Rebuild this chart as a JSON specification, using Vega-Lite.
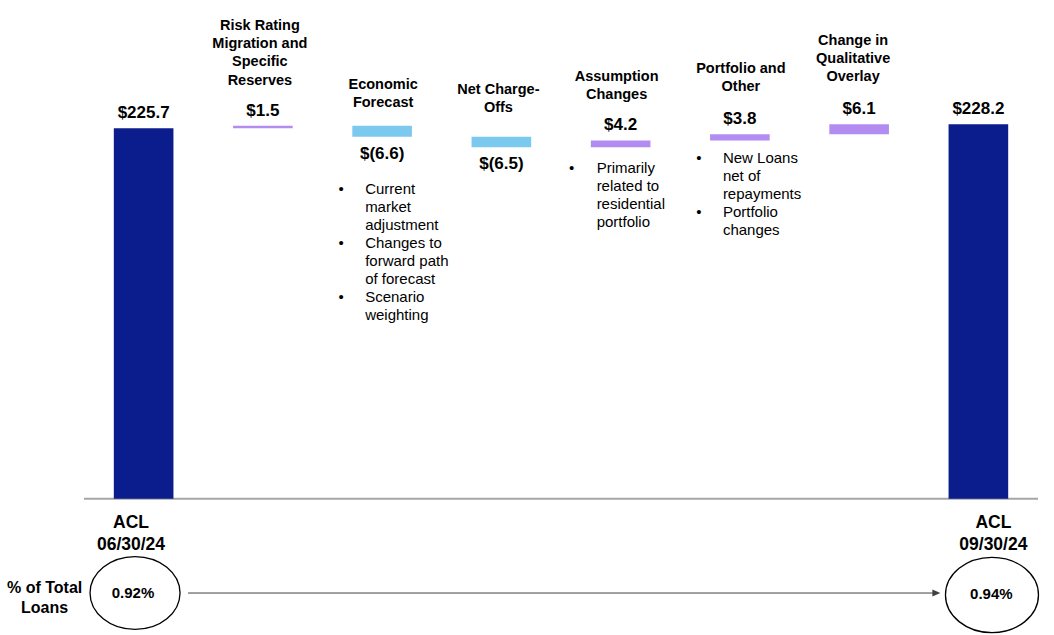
{
  "$schema": "https://vega.github.io/schema/vega-lite/v6.json",
  "width": 954,
  "height": 635,
  "autosize": "none",
  "padding": {"left": 84, "right": 16, "top": 0, "bottom": 0},
  "background": "white",
  "config": {
    "view": {"stroke": null},
    "text": {"font": "Liberation Sans", "lineBreak": "\n", "color": "#000000"}
  },
  "data": {
    "values": [
      {"cat": "start", "start": 0, "end": 225.7, "type": "total", "label": "$225.7", "acl": "ACL\n06/30/24", "pct": "0.92%", "rowlabel": "% of Total\nLoans"},
      {"cat": "risk", "start": 225.7, "end": 227.2, "type": "increase", "label": "$1.5", "title": "Risk Rating\nMigration and\nSpecific\nReserves"},
      {"cat": "econ", "start": 227.2, "end": 220.6, "type": "decrease", "label": "$(6.6)", "title": "Economic\nForecast", "notes": "Current\nmarket\nadjustment\nChanges to\nforward path\nof forecast\nScenario\nweighting", "bullets": "\u2022\n\u2022\n\u2022"},
      {"cat": "nco", "start": 220.6, "end": 214.1, "type": "decrease", "label": "$(6.5)", "title": "Net Charge-\nOffs"},
      {"cat": "assump", "start": 214.1, "end": 218.3, "type": "increase", "label": "$4.2", "title": "Assumption\nChanges", "notes": "Primarily\nrelated to\nresidential\nportfolio", "bullets": "\u2022"},
      {"cat": "port", "start": 218.3, "end": 222.1, "type": "increase", "label": "$3.8", "title": "Portfolio and\nOther", "notes": "New Loans\nnet of\nrepayments\nPortfolio\nchanges", "bullets": "\u2022\n\u2022"},
      {"cat": "qual", "start": 222.1, "end": 228.2, "type": "increase", "label": "$6.1", "title": "Change in\nQualitative\nOverlay"},
      {"cat": "end", "start": 0, "end": 228.2, "type": "total", "label": "$228.2", "acl": "ACL\n09/30/24", "pct": "0.94%"}
    ]
  },
  "layer": [
    {
      "data": {"values": [{}]},
      "mark": {"type": "rule", "color": "#A6A6A6", "strokeWidth": 2},
      "encoding": {"y": {"datum": 0, "type": "quantitative", "axis": null}}
    },
    {
      "mark": {"type": "bar"},
      "encoding": {
        "x": {"field": "cat", "type": "nominal", "sort": null, "axis": null,
              "scale": {"domain": ["start", "risk", "econ", "nco", "assump", "port", "qual", "end"], "paddingInner": 0.5, "paddingOuter": 0.25}},
        "y": {"field": "start", "type": "quantitative", "axis": null, "scale": {"domain": [-82.97, 303.85], "nice": false, "zero": false}},
        "y2": {"field": "end"},
        "color": {"field": "type", "type": "nominal", "legend": null,
                  "scale": {"domain": ["total", "increase", "decrease"], "range": ["#0B1C8C", "#B28CF0", "#7CC9F0"]}}
      }
    },
    {
      "transform": [{"filter": "datum.type != 'decrease'"}],
      "mark": {"type": "text", "fontSize": 17, "fontWeight": "bold", "baseline": "alphabetic", "dy": -10},
      "encoding": {
        "x": {"field": "cat", "type": "nominal", "sort": null},
        "y": {"field": "end", "type": "quantitative"},
        "text": {"field": "label"}
      }
    },
    {
      "transform": [{"filter": "datum.type == 'decrease'"}],
      "mark": {"type": "text", "fontSize": 17, "fontWeight": "bold", "baseline": "alphabetic", "dy": 22},
      "encoding": {
        "x": {"field": "cat", "type": "nominal", "sort": null},
        "y": {"field": "end", "type": "quantitative"},
        "text": {"field": "label"}
      }
    },
    {
      "transform": [{"filter": "datum.cat == 'risk'"}],
      "mark": {"type": "text", "fontSize": 14.5, "fontWeight": "bold", "baseline": "alphabetic", "lineHeight": 18.3, "dy": -96, "dx": -3},
      "encoding": {
        "x": {"field": "cat", "type": "nominal", "sort": null},
        "y": {"field": "end", "type": "quantitative"},
        "text": {"field": "title"}
      }
    },
    {
      "transform": [{"filter": "datum.cat == 'qual'"}],
      "mark": {"type": "text", "fontSize": 14.5, "fontWeight": "bold", "baseline": "alphabetic", "lineHeight": 18.3, "dy": -79.5, "dx": -6},
      "encoding": {
        "x": {"field": "cat", "type": "nominal", "sort": null},
        "y": {"field": "end", "type": "quantitative"},
        "text": {"field": "title"}
      }
    },
    {
      "transform": [{"filter": "datum.cat == 'assump'"}],
      "mark": {"type": "text", "fontSize": 14.5, "fontWeight": "bold", "baseline": "alphabetic", "lineHeight": 18.3, "dy": -59.5, "dx": -4},
      "encoding": {
        "x": {"field": "cat", "type": "nominal", "sort": null},
        "y": {"field": "end", "type": "quantitative"},
        "text": {"field": "title"}
      }
    },
    {
      "transform": [{"filter": "datum.cat == 'port'"}],
      "mark": {"type": "text", "fontSize": 14.5, "fontWeight": "bold", "baseline": "alphabetic", "lineHeight": 18.3, "dy": -61.5, "dx": 1},
      "encoding": {
        "x": {"field": "cat", "type": "nominal", "sort": null},
        "y": {"field": "end", "type": "quantitative"},
        "text": {"field": "title"}
      }
    },
    {
      "transform": [{"filter": "datum.cat == 'econ'"}],
      "mark": {"type": "text", "fontSize": 14.5, "fontWeight": "bold", "baseline": "alphabetic", "lineHeight": 18.3, "dy": -37, "dx": 1},
      "encoding": {
        "x": {"field": "cat", "type": "nominal", "sort": null},
        "y": {"field": "start", "type": "quantitative"},
        "text": {"field": "title"}
      }
    },
    {
      "transform": [{"filter": "datum.cat == 'nco'"}],
      "mark": {"type": "text", "fontSize": 14.5, "fontWeight": "bold", "baseline": "alphabetic", "lineHeight": 18.3, "dy": -42.5, "dx": -3},
      "encoding": {
        "x": {"field": "cat", "type": "nominal", "sort": null},
        "y": {"field": "start", "type": "quantitative"},
        "text": {"field": "title"}
      }
    },
    {
      "transform": [{"filter": "datum.cat == 'econ'"}],
      "mark": {"type": "text", "fontSize": 15, "baseline": "top", "align": "left", "lineHeight": 18, "dy": 45, "dx": -17},
      "encoding": {
        "x": {"field": "cat", "type": "nominal", "sort": null},
        "y": {"field": "end", "type": "quantitative"},
        "text": {"field": "notes"}
      }
    },
    {
      "transform": [{"filter": "datum.cat == 'econ'"}],
      "mark": {"type": "text", "fontSize": 15, "baseline": "top", "align": "center", "lineHeight": 54, "dy": 45, "dx": -41},
      "encoding": {
        "x": {"field": "cat", "type": "nominal", "sort": null},
        "y": {"field": "end", "type": "quantitative"},
        "text": {"field": "bullets"}
      }
    },
    {
      "transform": [{"filter": "datum.cat == 'assump'"}],
      "mark": {"type": "text", "fontSize": 15, "baseline": "top", "align": "left", "lineHeight": 18, "dy": 14, "dx": -24},
      "encoding": {
        "x": {"field": "cat", "type": "nominal", "sort": null},
        "y": {"field": "start", "type": "quantitative"},
        "text": {"field": "notes"}
      }
    },
    {
      "transform": [{"filter": "datum.cat == 'assump'"}],
      "mark": {"type": "text", "fontSize": 15, "baseline": "top", "align": "center", "lineHeight": 54, "dy": 14, "dx": -49},
      "encoding": {
        "x": {"field": "cat", "type": "nominal", "sort": null},
        "y": {"field": "start", "type": "quantitative"},
        "text": {"field": "bullets"}
      }
    },
    {
      "transform": [{"filter": "datum.cat == 'port'"}],
      "mark": {"type": "text", "fontSize": 15, "baseline": "top", "align": "left", "lineHeight": 18, "dy": 11, "dx": -17},
      "encoding": {
        "x": {"field": "cat", "type": "nominal", "sort": null},
        "y": {"field": "start", "type": "quantitative"},
        "text": {"field": "notes"}
      }
    },
    {
      "transform": [{"filter": "datum.cat == 'port'"}],
      "mark": {"type": "text", "fontSize": 15, "baseline": "top", "align": "center", "lineHeight": 54, "dy": 11, "dx": -41},
      "encoding": {
        "x": {"field": "cat", "type": "nominal", "sort": null},
        "y": {"field": "start", "type": "quantitative"},
        "text": {"field": "bullets"}
      }
    },
    {
      "transform": [{"filter": "datum.cat == 'start'"}],
      "mark": {"type": "text", "fontSize": 17.5, "fontWeight": "bold", "baseline": "top", "lineHeight": 21.5, "dx": -12.6},
      "encoding": {
        "x": {"field": "cat", "type": "nominal", "sort": null},
        "y": {"datum": -9.4, "type": "quantitative"},
        "text": {"field": "acl"}
      }
    },
    {
      "transform": [{"filter": "datum.cat == 'end'"}],
      "mark": {"type": "text", "fontSize": 17.5, "fontWeight": "bold", "baseline": "top", "lineHeight": 21.5, "dx": 15},
      "encoding": {
        "x": {"field": "cat", "type": "nominal", "sort": null},
        "y": {"datum": -9.4, "type": "quantitative"},
        "text": {"field": "acl"}
      }
    },
    {
      "transform": [{"filter": "datum.cat == 'start'"}],
      "mark": {"type": "text", "fontSize": 16, "fontWeight": "bold", "baseline": "top", "lineHeight": 20.3, "dx": -99},
      "encoding": {
        "x": {"field": "cat", "type": "nominal", "sort": null},
        "y": {"datum": -49.5, "type": "quantitative"},
        "text": {"field": "rowlabel"}
      }
    },
    {
      "transform": [{"filter": "datum.cat == 'start'"}],
      "mark": {"type": "point", "shape": "M-1,0C-1,-0.4474,-0.5523,-0.81,0,-0.81C0.5523,-0.81,1,-0.4474,1,0C1,0.4474,0.5523,0.81,0,0.81C-0.5523,0.81,-1,0.4474,-1,0Z", "size": 8100, "filled": false, "stroke": "#000000", "strokeWidth": 1.3, "opacity": 1, "xOffset": -8.6},
      "encoding": {
        "x": {"field": "cat", "type": "nominal", "sort": null},
        "y": {"datum": -57.4, "type": "quantitative"}
      }
    },
    {
      "transform": [{"filter": "datum.cat == 'end'"}],
      "mark": {"type": "point", "shape": "M-1,0C-1,-0.4474,-0.5523,-0.81,0,-0.81C0.5523,-0.81,1,-0.4474,1,0C1,0.4474,0.5523,0.81,0,0.81C-0.5523,0.81,-1,0.4474,-1,0Z", "size": 8649, "filled": false, "stroke": "#000000", "strokeWidth": 1.3, "opacity": 1, "xOffset": 13.6},
      "encoding": {
        "x": {"field": "cat", "type": "nominal", "sort": null},
        "y": {"datum": -58.6, "type": "quantitative"}
      }
    },
    {
      "transform": [{"filter": "datum.cat == 'start'"}],
      "mark": {"type": "text", "fontSize": 15, "fontWeight": "bold", "baseline": "middle", "dx": -10.6},
      "encoding": {
        "x": {"field": "cat", "type": "nominal", "sort": null},
        "y": {"datum": -57.4, "type": "quantitative"},
        "text": {"field": "pct"}
      }
    },
    {
      "transform": [{"filter": "datum.cat == 'end'"}],
      "mark": {"type": "text", "fontSize": 15, "fontWeight": "bold", "baseline": "middle", "dx": 13},
      "encoding": {
        "x": {"field": "cat", "type": "nominal", "sort": null},
        "y": {"datum": -58.0, "type": "quantitative"},
        "text": {"field": "pct"}
      }
    },
    {
      "data": {"values": [{}]},
      "mark": {"type": "rule", "color": "#404040", "strokeWidth": 1, "xOffset": 44.4, "x2Offset": -45},
      "encoding": {
        "x": {"datum": "start", "type": "nominal"},
        "x2": {"datum": "end"},
        "y": {"datum": -57.4, "type": "quantitative"}
      }
    },
    {
      "data": {"values": [{}]},
      "mark": {"type": "point", "shape": "M1,0L-1,-0.9L-1,0.9Z", "size": 64, "filled": true, "color": "#404040", "opacity": 1, "xOffset": -42},
      "encoding": {
        "x": {"datum": "end", "type": "nominal"},
        "y": {"datum": -57.4, "type": "quantitative"}
      }
    }
  ]
}
